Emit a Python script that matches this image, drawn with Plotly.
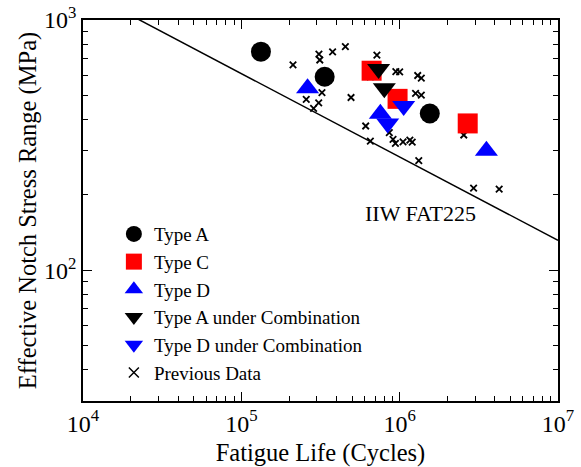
import plotly.graph_objects as go

# ---- data ----
typeA_N = [1.33e5, 3.36e5, 1.55e6]
typeA_S = [747, 593, 423]

typeC_N = [6.65e5, 9.7e5, 2.69e6]
typeC_S = [627, 484, 386]

typeD_N = [2.62e5, 7.55e5, 3.53e6]
typeD_S = [533, 422, 300]

typeAc_N = [7.36e5, 8.0e5]
typeAc_S = [637, 533]

typeDc_N = [1.06e6, 8.4e5]
typeDc_S = [453, 386]

prev_N = [2.12e5, 3.09e5, 3.13e5, 3.77e5, 4.54e5, 3.23e5, 2.57e5, 3.08e5, 2.86e5,
          4.93e5, 7.18e5, 6.53e5, 9.46e5, 1.0e6, 1.30e6, 1.37e6, 1.26e6, 1.37e6,
          6.1e5, 6.53e5, 8.6e5, 9.08e5, 9.4e5, 1.05e6, 1.16e6, 1.2e6, 1.32e6,
          2.54e6, 2.93e6, 4.25e6]
prev_S = [661, 731, 692, 745, 782, 513, 482, 466, 443,
          490, 724, 593, 622, 620, 600, 586, 509, 501,
          377, 328, 355, 333, 321, 326, 331, 325, 274,
          347, 213, 211]

fat_N = [1e4, 1e7]
fat_S = [1316, 131.6]

x_tickvals = [1e4, 1e5, 1e6, 1e7]
x_ticktext = ["10<sup>4</sup>", "10<sup>5</sup>", "10<sup>6</sup>", "10<sup>7</sup>"]
x_minor = [m * 10 ** e for e in (4, 5, 6) for m in range(2, 10)]
y_tickvals = [100, 1000]
y_ticktext = ["10<sup>2</sup>", "10<sup>3</sup>"]
y_minor = [m * 10 ** e for e in (1, 2) for m in range(2, 10) if 30 <= m * 10 ** e <= 1000]

FONT = "Liberation Serif, Times New Roman, serif"

fig = go.Figure()

fig.add_trace(go.Scatter(x=fat_N, y=fat_S, mode="lines",
                         line=dict(color="black", width=1.5), showlegend=False,
                         hoverinfo="skip"))

fig.add_trace(go.Scatter(x=prev_N, y=prev_S, mode="markers", name="Previous Data",
                         showlegend=False,
                         marker=dict(symbol="x-thin", size=6.5,
                                     line=dict(color="black", width=1.8), color="black")))

fig.add_trace(go.Scatter(x=typeA_N, y=typeA_S, mode="markers", name="Type A",
                         marker=dict(symbol="circle", size=20, color="black")))
fig.add_trace(go.Scatter(x=typeC_N, y=typeC_S, mode="markers", name="Type C",
                         marker=dict(symbol="square", size=20, color="#FF0000")))
fig.add_trace(go.Scatter(x=typeD_N, y=typeD_S, mode="markers", name="Type D",
                         marker=dict(symbol="triangle-up", size=20, color="#0000FF")))
fig.add_trace(go.Scatter(x=typeAc_N, y=typeAc_S, mode="markers", name="Type A under Combination",
                         marker=dict(symbol="triangle-down", size=20, color="black")))
fig.add_trace(go.Scatter(x=typeDc_N, y=typeDc_S, mode="markers", name="Type D under Combination",
                         marker=dict(symbol="triangle-down", size=20, color="#0000FF")))
# legend-only entry for previous data (larger symbol like the reference legend)
fig.add_trace(go.Scatter(x=[None], y=[None], mode="markers", name="Previous Data",
                         marker=dict(symbol="x-thin", size=10,
                                     line=dict(color="black", width=1.5), color="black")))

axis_common = dict(
    type="log", showgrid=False, zeroline=False, automargin=False,
    showline=True, linecolor="black", linewidth=1.5, mirror="allticks",
    ticks="inside", ticklen=9, tickwidth=1.2, tickcolor="black",
    tickfont=dict(family=FONT, size=24, color="black"),
)

fig.update_xaxes(range=[4, 7], tickmode="array", tickvals=x_tickvals, ticktext=x_ticktext,
                 minor=dict(ticks="inside", ticklen=5, tickwidth=1.2, tickcolor="black",
                            showgrid=False, tickmode="array", tickvals=x_minor),
                 title=dict(text="Fatigue Life (Cycles)", font=dict(family=FONT, size=24.5, color="black"),
                            standoff=14),
                 **axis_common)
fig.update_yaxes(range=[1.4771, 3], tickmode="array", tickvals=y_tickvals, ticktext=y_ticktext,
                 minor=dict(ticks="inside", ticklen=5, tickwidth=1.2, tickcolor="black",
                            showgrid=False, tickmode="array", tickvals=y_minor),
                 title=dict(text="Effective Notch Stress Range (MPa)",
                            font=dict(family=FONT, size=24.5, color="black"), standoff=0),
                 **axis_common)

fig.add_annotation(x=6.131, y=2.228, xref="x", yref="y", text="IIW FAT225",
                   showarrow=False, font=dict(family=FONT, size=22, color="black"))

fig.update_layout(
    width=581, height=467,
    margin=dict(l=83, r=23, t=20, b=66),
    paper_bgcolor="white", plot_bgcolor="white",
    font=dict(family=FONT, color="black"),
    legend=dict(x=0.065, y=0.488, xanchor="left", yanchor="top",
                bgcolor="rgba(0,0,0,0)", font=dict(family=FONT, size=19, color="black"),
                traceorder="normal", tracegroupgap=0, itemsizing="trace"),
)

fig.write_html("out.html")
